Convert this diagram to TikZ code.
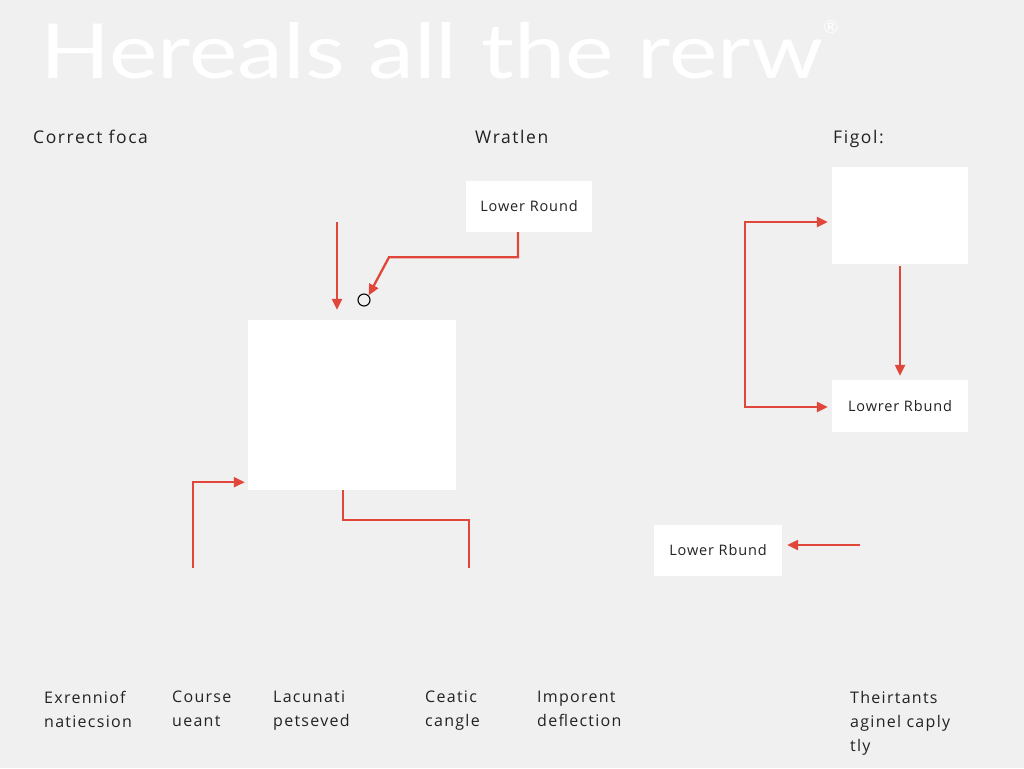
\documentclass[tikz,border=0pt]{standalone}
\usepackage{fontspec}
\setmainfont{Open Sans}
\newfontfamily\titlefont{Lato}
\newfontfamily\sectfont[LetterSpace=9]{Open Sans}
\newfontfamily\lblfont[LetterSpace=8]{Open Sans}
\newfontfamily\boxfont[LetterSpace=6]{Open Sans}
\usetikzlibrary{arrows.meta}
\definecolor{bg}{HTML}{F0F0F0}
\definecolor{redl}{HTML}{E0463A}
\definecolor{ink}{HTML}{222222}
\begin{document}
\begin{tikzpicture}[x=1pt,y=-1pt,
  box/.style={fill=white,draw=none,inner sep=0pt,text=ink,font=\boxfont\fontsize{14.5}{18}\selectfont},
  conn/.style={draw=redl,line width=2.3pt},
  tip/.tip={Triangle[length=11pt,width=10pt]},
  arr/.style={conn,-tip},
  sect/.style={anchor=base west,inner sep=0pt,text=ink,font=\sectfont\fontsize{17.5}{22}\selectfont},
  lbl/.style={anchor=north west,inner sep=0pt,align=left,text=ink,font=\lblfont\fontsize{16}{24}\selectfont}]
\fill[bg] (0,0) rectangle (1024,768);
\useasboundingbox (0,0) rectangle (1024,768);
% title
\node[anchor=base west,inner sep=0pt,text=white,font=\titlefont\fontsize{76}{76}\selectfont] (title) at (40,78)
  {\scalebox{1.21}[1]{Hereals all the rerw}\raisebox{0.58em}{\fontsize{18}{18}\selectfont\textregistered}};
% section labels
\node[sect] (s1) at (33,143) {Correct foca};
\node[sect] (s2) at (475,143) {Wratlen};
\node[sect] (s3) at (833,143) {Figol:};
% boxes
\node[box,minimum width=126pt,minimum height=51pt] (box1) at (529,206.5) {Lower Round};
\node[box,minimum width=208pt,minimum height=170pt] (big) at (352,405) {};
\node[circle,draw=black,line width=1.1pt,fill=bg,minimum size=12pt,inner sep=0pt] (circ) at (364,300) {};
\node[box,minimum width=136pt,minimum height=97pt] (rtop) at (900,215.5) {};
\node[box,minimum width=136pt,minimum height=52pt] (rbox) at (900,406) {Lowrer Rbund};
\node[box,minimum width=128pt,minimum height=51pt] (box3) at (718,550.5) {Lower Rbund};
% free ends
\coordinate (a1) at (337,222);
\coordinate (a3) at (193,568);
\coordinate (l4) at (469,568);
\coordinate (a5) at (860,545);
% connectors
\draw[arr] (a1) -- ([xshift=-15pt,yshift=10pt]big.north);
\draw[arr] ([xshift=-11pt]box1.south) -- ++(0,25) -- ++(-129,0) -- (circ.north east);
\draw[arr] (a3) |- ([xshift=-3pt,yshift=8pt]big.south west);
\draw[conn] ([xshift=-9pt]big.south) -- ++(0,30) -| (l4);
\draw[arr] ([yshift=-2pt]rtop.south) -- ([yshift=4pt]rbox.north);
\draw[conn,tip-tip]
  ([xshift=-4pt,yshift=-6.5pt]rtop.west) -- ++(-83,0) |- ([xshift=-4pt,yshift=-1pt]rbox.west);
\draw[arr] (a5) -- ([xshift=5pt,yshift=5.5pt]box3.east);
% bottom labels
\node[lbl] (b1) at (44,691) {Exrenniof\\natiecsion};
\node[lbl] (b2) at (172,691) {Course\\ueant};
\node[lbl] (b3) at (273,691) {Lacunati\\petseved};
\node[lbl] (b4) at (425,691) {Ceatic\\cangle};
\node[lbl] (b5) at (537,691) {Imporent\\deflection};
\node[lbl] (b6) at (850,691) {Theirtants\\aginel caply\\tly};
\end{tikzpicture}
\end{document}
